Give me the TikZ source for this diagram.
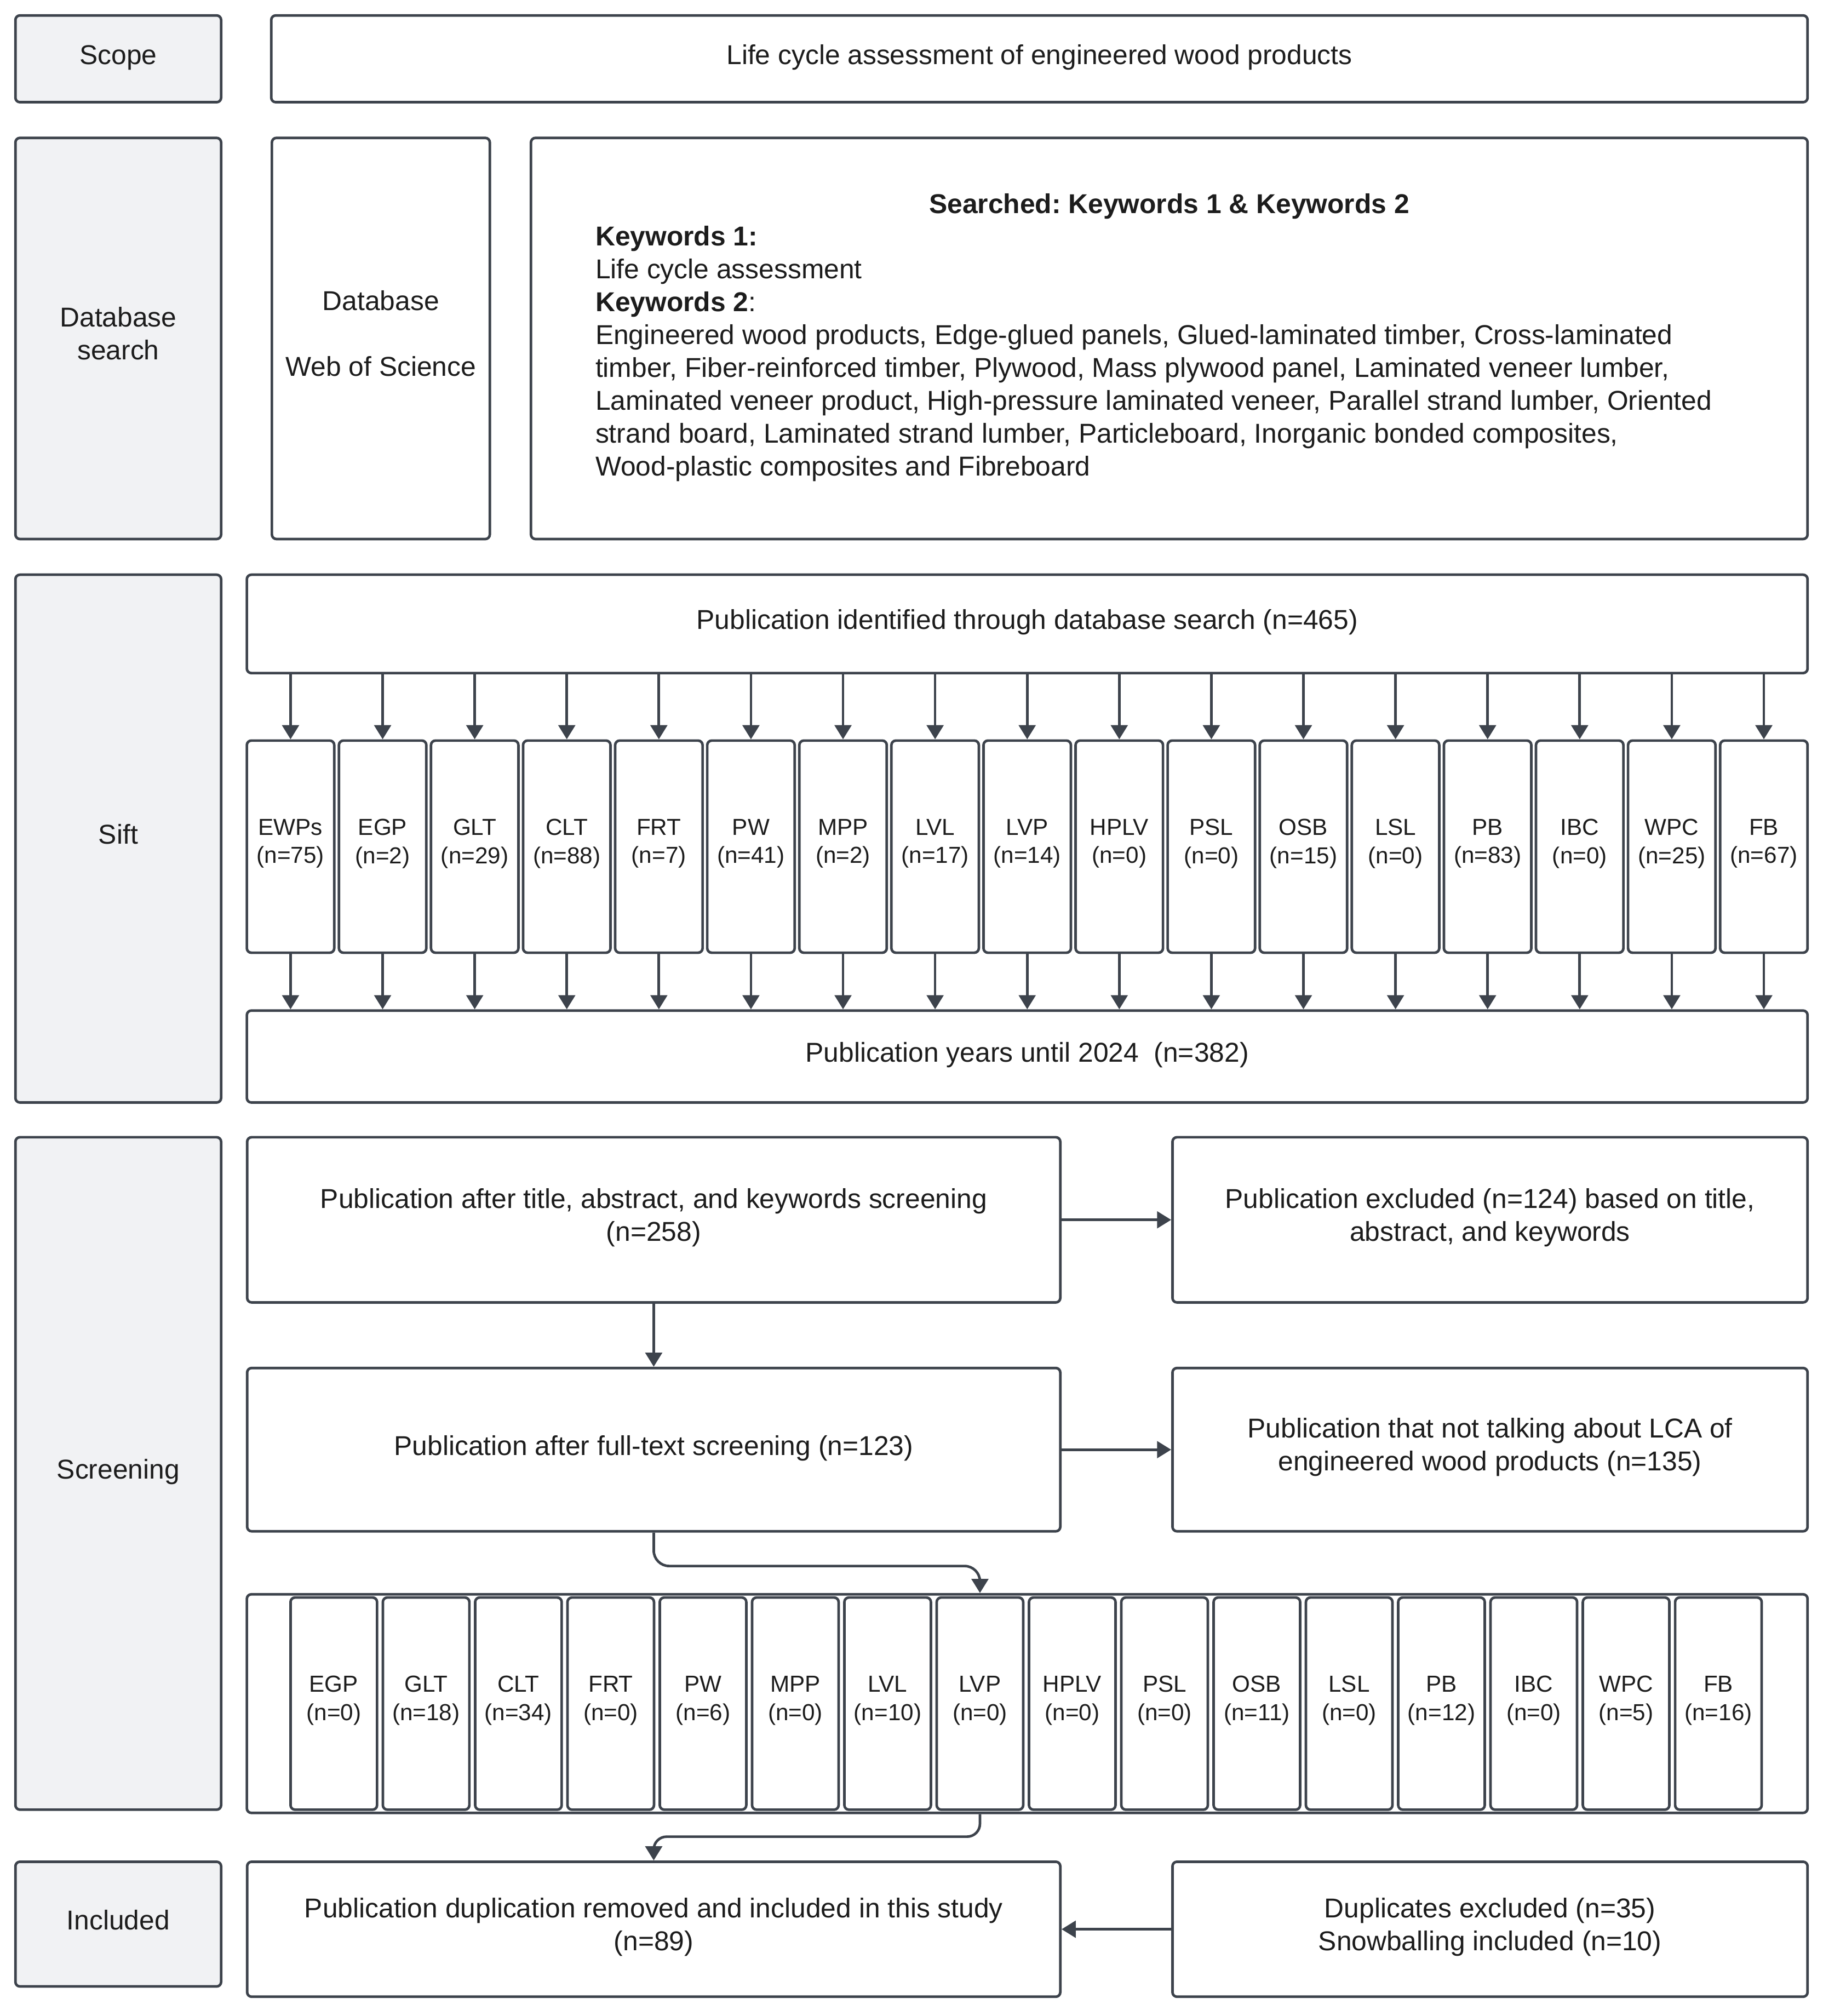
\documentclass[tikz,border=0pt]{standalone}
\usepackage{fontspec}
\setmainfont{Liberation Sans}
\usetikzlibrary{arrows.meta,calc}
\definecolor{edge}{RGB}{61,67,76}
\definecolor{lab}{RGB}{241,242,244}
\definecolor{txt}{RGB}{28,28,28}
\frenchspacing
\begin{document}
\begin{tikzpicture}[x=1pt,y=-1pt,
  basebox/.style={draw=edge, line width=2pt, rounded corners=3.5pt, fill=white, inner sep=0pt, align=center, text=txt},
  box/.style={basebox, font=\fontsize{21.2}{25.6}\selectfont,
    execute at begin node={\rule{0pt}{16.5pt}}, execute at end node={\rule[-8pt]{0pt}{8pt}}},
  labbox/.style={box, fill=lab},
  cbox/.style={basebox, font=\fontsize{18}{22}\selectfont,
    execute at begin node={\rule{0pt}{14pt}}, execute at end node={\rule[-8.5pt]{0pt}{8.5pt}}},
  arr/.style={draw=edge, line width=2pt, -{Triangle[length=11pt,width=13pt]}},
  kwtext/.style={anchor=base west, inner sep=0pt, text=txt, font=\fontsize{21.2}{25.6}\selectfont}]
\useasboundingbox[fill=white] (0,0) rectangle (1418,1568);

% left column labels
\node[labbox, minimum width=160pt, minimum height=67.5pt] (scopeL) at (92,45.75) {Scope};
\node[labbox, minimum width=160pt, minimum height=312pt] (dbL) at (92,263.25) {Database\\search};
\node[labbox, minimum width=160pt, minimum height=410.5pt] (siftL) at (92,652.25) {Sift};
\node[labbox, minimum width=160pt, minimum height=523pt] (scrL) at (92,1146) {Screening};
\node[labbox, minimum width=160pt, minimum height=97pt] (incL) at (92,1496.5) {Included};

% scope
\node[box, minimum width=1195pt, minimum height=67.5pt] (scopeR) at (808.5,45.75) {Life cycle assessment of engineered wood products};

% database search
\node[box, minimum width=169.5pt, minimum height=312pt] (db) at (296.25,263.25) {Database\\[25.6pt]Web of Science};
\node[box, minimum width=993pt, minimum height=312pt] (kw) at (909.5,263.25) {};
\node[kwtext, anchor=base] (kwh) at (909.5,166) {\textbf{Searched: Keywords 1 \& Keywords 2}};
\node[kwtext] (kw1) at (463,191) {\textbf{Keywords 1:}};
\node[kwtext] (kw2) at (463,216.6) {Life cycle assessment};
\node[kwtext] (kw3) at (463,242.1) {\textbf{Keywords 2}:};
\node[kwtext] (kw4) at (463,267.7) {Engineered wood products, Edge-glued panels, Glued-laminated timber, Cross-laminated};
\node[kwtext] (kw5) at (463,293.3) {timber, Fiber-reinforced timber, Plywood, Mass plywood panel, Laminated veneer lumber,};
\node[kwtext] (kw6) at (463,318.9) {Laminated veneer product, High-pressure laminated veneer, Parallel strand lumber, Oriented};
\node[kwtext] (kw7) at (463,344.4) {strand board, Laminated strand lumber, Particleboard, Inorganic bonded composites,};
\node[kwtext] (kw8) at (463,370) {Wood-plastic composites and Fibreboard};

% sift
\node[box, minimum width=1214pt, minimum height=76.5pt] (ident) at (799,485.25) {Publication identified through database search (n=465)};
\node[box, minimum width=1214pt, minimum height=71.5pt] (years) at (799,821.75) {Publication years until 2024\ \ (n=382)};
\foreach \lab/\n [count=\i] in {EWPs/75,EGP/2,GLT/29,CLT/88,FRT/7,PW/41,MPP/2,LVL/17,LVP/14,HPLV/0,PSL/0,OSB/15,LSL/0,PB/83,IBC/0,WPC/25,FB/67}{
  \node[cbox, minimum width=68pt, minimum height=165pt] (s\i) at ({226+(\i-1)*71.625},658.5) {\lab\\(n=\n)};
  \draw[arr] (s\i.north |- ident.south) -- (s\i.north);
  \draw[arr] (s\i.south) -- (s\i.south |- years.north);
}

% screening
\node[box, minimum width=632.5pt, minimum height=128.5pt] (title) at (508.5,948.75) {Publication after title, abstract, and keywords screening\\(n=258)};
\node[box, minimum width=494pt, minimum height=128.5pt] (excl) at (1159,948.75) {Publication excluded (n=124) based on title,\\abstract, and keywords};
\node[box, minimum width=632.5pt, minimum height=127pt] (full) at (508.5,1127.5) {Publication after full-text screening (n=123)};
\node[box, minimum width=494pt, minimum height=127pt] (notalk) at (1159,1127.5) {Publication that not talking about LCA of\\engineered wood products (n=135)};
\node[box, minimum width=1214pt, minimum height=170pt] (cont) at (799,1325) {};
\foreach \lab/\n [count=\i] in {EGP/0,GLT/18,CLT/34,FRT/0,PW/6,MPP/0,LVL/10,LVP/0,HPLV/0,PSL/0,OSB/11,LSL/0,PB/12,IBC/0,WPC/5,FB/16}{
  \node[cbox, minimum width=67.3pt, minimum height=165pt] (t\i) at ({259.65+(\i-1)*71.8},1325) {\lab\\(n=\n)};
}
\draw[arr] (title.east) -- (excl.west);
\draw[arr] (title.south) -- (full.north);
\draw[arr] (full.east) -- (notalk.west);
\draw[arr, rounded corners=12pt] (full.south) -- ++(0,26) -| (t8.north |- cont.north);

% included
\node[box, minimum width=632.5pt, minimum height=105pt] (inc) at (508.5,1500.5) {Publication duplication removed and included in this study\\(n=89)};
\node[box, minimum width=494pt, minimum height=105pt] (dup) at (1159,1500.5) {Duplicates excluded (n=35)\\Snowballing included (n=10)};
\draw[arr, rounded corners=10pt] (t8.south |- cont.south) -- ++(0,17.5) -| (inc.north);
\draw[arr] (dup.west) -- (inc.east);
\end{tikzpicture}
\end{document}
